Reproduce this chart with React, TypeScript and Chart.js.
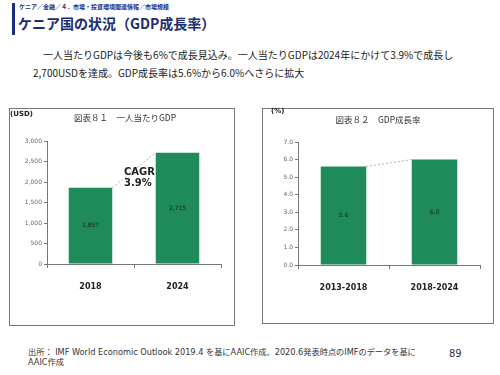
import React, { useEffect, useRef } from "react";
import { Chart, registerables } from "chart.js";
Chart.register(...registerables);

const gdpCategories = ["2018", "2024"];
const gdpValues = [1857, 2715];
const gdpMax = 3000;
const gdpStep = 500;

const growthCategories = ["2013-2018", "2018-2024"];
const growthValues = [5.6, 6.0];
const growthMax = 7;
const growthStep = 1;

const GREEN = "#1f8a5a";
const LATIN = '"DejaVu Sans", Verdana, sans-serif';
const JP = '"Noto Sans CJK JP", "Noto Sans", sans-serif';
const MIXED = '"DejaVu Sans", "Noto Sans CJK JP", sans-serif';

const barDecor = (fmt: (v: number) => string) => ({
  id: "barDecor",
  afterDatasetsDraw(chart: any) {
    const ctx = chart.ctx;
    const bars = chart.getDatasetMeta(0).data as any[];
    const vals = chart.data.datasets[0].data as number[];
    ctx.save();
    if (bars.length > 1) {
      const a = bars[0];
      const b = bars[1];
      ctx.setLineDash([2, 2]);
      ctx.strokeStyle = "#9a9a9a";
      ctx.lineWidth = 0.8;
      ctx.beginPath();
      ctx.moveTo(a.x + a.width / 2, a.y);
      ctx.lineTo(b.x - b.width / 2, b.y);
      ctx.stroke();
    }
    ctx.setLineDash([]);
    ctx.fillStyle = "#222";
    ctx.font = `6px ${LATIN}`;
    ctx.textAlign = "center";
    ctx.textBaseline = "middle";
    bars.forEach((bar, i) => {
      ctx.fillText(fmt(vals[i]), bar.x, (bar.y + bar.base) / 2);
    });
    ctx.restore();
  },
});

type BarProps = {
  labels: string[];
  values: number[];
  max: number;
  step: number;
  tickFmt: (v: number) => string;
  valFmt: (v: number) => string;
  width: number;
  height: number;
  yWidth: number;
  xHeight: number;
  padTop: number;
  padRight: number;
  style: React.CSSProperties;
};

function BarChart(p: BarProps) {
  const ref = useRef<HTMLCanvasElement>(null);
  useEffect(() => {
    if (!ref.current) return;
    const chart = new Chart(ref.current, {
      type: "bar",
      data: {
        labels: p.labels,
        datasets: [
          {
            data: p.values,
            backgroundColor: GREEN,
            borderWidth: 0,
            barPercentage: 0.5,
            categoryPercentage: 1,
          },
        ],
      },
      options: {
        responsive: false,
        animation: false,
        layout: { padding: { top: p.padTop, right: p.padRight, left: 0, bottom: 0 } },
        plugins: { legend: { display: false }, tooltip: { enabled: false } },
        scales: {
          x: {
            grid: {
              display: true,
              drawOnChartArea: false,
              drawTicks: true,
              tickLength: 4,
              offset: true,
              color: "#777",
            },
            border: { color: "#777", width: 1 },
            ticks: {
              padding: 14,
              color: "#222",
              font: { family: LATIN, size: 8, weight: "bold" },
              maxRotation: 0,
            },
            afterFit: (s: any) => {
              s.height = p.xHeight;
            },
          },
          y: {
            min: 0,
            max: p.max,
            grid: {
              display: true,
              drawOnChartArea: false,
              drawTicks: true,
              tickLength: 3,
              color: "#777",
            },
            border: { color: "#777", width: 1 },
            ticks: {
              stepSize: p.step,
              padding: 2,
              color: "#666",
              font: { family: LATIN, size: 6 },
              callback: (v: any) => p.tickFmt(Number(v)),
            },
            afterFit: (s: any) => {
              s.width = p.yWidth;
            },
          },
        },
      },
      plugins: [barDecor(p.valFmt)],
    } as any);
    return () => chart.destroy();
  }, []);
  return <canvas ref={ref} width={p.width} height={p.height} style={{ position: "absolute", display: "block", ...p.style }} />;
}

const abs = (s: React.CSSProperties): React.CSSProperties => ({ position: "absolute", whiteSpace: "nowrap", ...s });

export default function App() {
  return (
    <div style={{ position: "fixed", left: 0, top: 0, width: 500, height: 375, background: "#fff", overflow: "hidden", fontFamily: JP }}>
      {/* header */}
      <div style={abs({ left: 12, top: 3, width: 3, height: 32, background: "#1c2d80" })} />
      <div style={abs({ left: 19, top: 3, fontSize: 6, fontWeight: "bold", color: "#1c2d80", lineHeight: "8px" })}>
        ケニア／金融／４．市場・投資環境関連情報／市場規模
      </div>
      <div style={abs({ left: 18, top: 14, fontSize: 14, fontWeight: "bold", color: "#1c2d70", lineHeight: "18px" })}>
        ケニア国の状況（GDP成長率）
      </div>
      {/* body text */}
      <div style={abs({ left: 43, top: 48, fontSize: 10, color: "#222", lineHeight: "14px" })}>
        一人当たりGDPは今後も6%で成長見込み。一人当たりGDPは2024年にかけて3.9%で成長し
      </div>
      <div style={abs({ left: 33, top: 66, fontSize: 10, color: "#222", lineHeight: "14px" })}>
        2,700USDを達成。GDP成長率は5.6%から6.0%へさらに拡大
      </div>

      {/* left panel */}
      <div style={abs({ left: 9, top: 108, width: 224, height: 216, border: "1px solid #777" })} />
      <BarChart
        labels={gdpCategories}
        values={gdpValues}
        max={gdpMax}
        step={gdpStep}
        tickFmt={(v) => v.toLocaleString("en-US")}
        valFmt={(v) => v.toLocaleString("en-US")}
        width={224}
        height={215}
        yWidth={37}
        xHeight={60}
        padTop={32}
        padRight={13}
        style={{ left: 10, top: 109 }}
      />
      <div style={abs({ left: 10, top: 110, fontSize: 7, fontWeight: "bold", color: "#222", fontFamily: LATIN, lineHeight: "9px" })}>(USD)</div>
      <div style={abs({ left: 10, width: 230, top: 112, fontSize: 8.5, color: "#333", textAlign: "center", lineHeight: "11px" })}>
        図表８１　一人当たりGDP
      </div>
      <div style={abs({ left: 124, top: 166, fontSize: 10, fontWeight: "bold", color: "#222", fontFamily: LATIN, lineHeight: "11px" })}>
        CAGR
        <br />
        3.9%
      </div>

      {/* right panel */}
      <div style={abs({ left: 262, top: 108, width: 230, height: 214, border: "1px solid #777" })} />
      <BarChart
        labels={growthCategories}
        values={growthValues}
        max={growthMax}
        step={growthStep}
        tickFmt={(v) => v.toFixed(1)}
        valFmt={(v) => v.toFixed(1)}
        width={230}
        height={214}
        yWidth={35}
        xHeight={58}
        padTop={33}
        padRight={13}
        style={{ left: 263, top: 109 }}
      />
      <div style={abs({ left: 271, top: 107, fontSize: 7, fontWeight: "bold", color: "#222", fontFamily: LATIN, lineHeight: "9px" })}>(%)</div>
      <div style={abs({ left: 263, width: 230, top: 114, fontSize: 8.5, color: "#333", textAlign: "center", lineHeight: "11px" })}>
        図表８２　GDP成長率
      </div>

      {/* footer */}
      <div style={abs({ left: 28, top: 347, fontSize: 8.2, color: "#333", lineHeight: "10px", fontFamily: MIXED })}>
        出所： IMF World Economic Outlook 2019.4 を基にAAIC作成、2020.6発表時点のIMFのデータを基に
        <br />
        AAIC作成
      </div>
      <div style={abs({ left: 449, top: 348, fontSize: 10, color: "#333", fontFamily: LATIN, lineHeight: "12px" })}>89</div>
    </div>
  );
}
